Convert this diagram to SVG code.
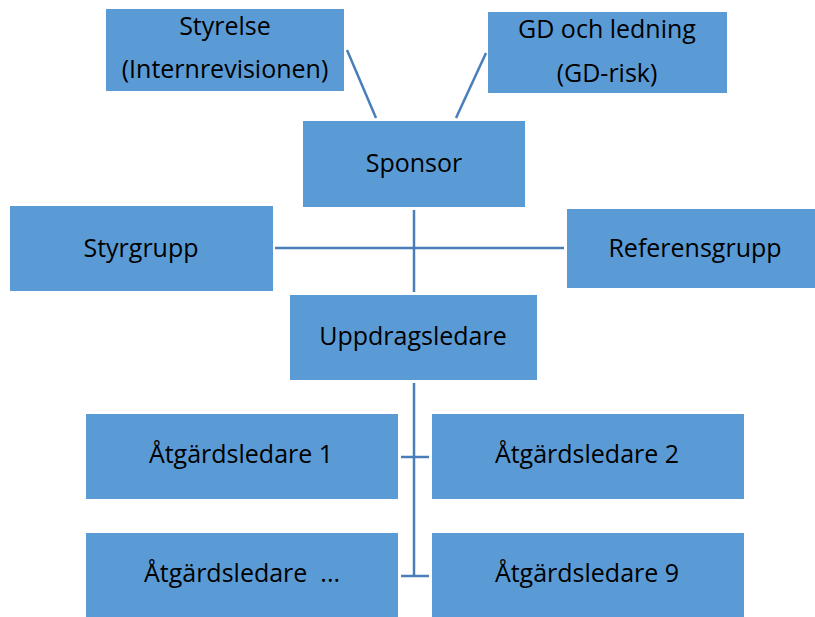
<svg xmlns="http://www.w3.org/2000/svg" width="815" height="617" viewBox="0 0 815 617">
<style>
.box{fill:#5B9BD5;}
.t{font-family:"Open Sans","Liberation Sans",sans-serif;font-size:25px;fill:#000;text-anchor:middle;}
.c{stroke:#4A7EBB;stroke-width:2.5;fill:none;}
</style>
<rect width="815" height="617" fill="#fff"/>
<g id="connectors">
<line class="c" x1="347" y1="50" x2="376" y2="118"/>
<line class="c" x1="486" y1="53" x2="456" y2="118"/>
<line class="c" x1="414" y1="210" x2="414" y2="292"/>
<line class="c" x1="275" y1="248" x2="564" y2="248"/>
<line class="c" x1="414" y1="383" x2="414" y2="577"/>
<line class="c" x1="401" y1="457" x2="429" y2="457"/>
<line class="c" x1="401" y1="576" x2="429" y2="576"/>
</g>
<g id="styrelse"><rect class="box" x="106" y="9" width="238" height="82"/><text class="t" x="225" y="35">Styrelse</text><text class="t" x="225" y="78">(Internrevisionen)</text></g>
<g id="gd"><rect class="box" x="488" y="12" width="239" height="81"/><text class="t" x="607" y="38">GD och ledning</text><text class="t" x="607" y="82">(GD-risk)</text></g>
<g id="sponsor"><rect class="box" x="303" y="121" width="222" height="86"/><text class="t" x="414" y="172">Sponsor</text></g>
<g id="styrgrupp"><rect class="box" x="10" y="206" width="263" height="85"/><text class="t" x="141" y="257">Styrgrupp</text></g>
<g id="referensgrupp"><rect class="box" x="567" y="209" width="248" height="79"/><text class="t" x="695" y="257">Referensgrupp</text></g>
<g id="uppdragsledare"><rect class="box" x="290" y="295" width="247" height="85"/><text class="t" x="413" y="345">Uppdragsledare</text></g>
<g id="atg1"><rect class="box" x="86" y="414" width="312" height="85"/><text class="t" x="241" y="463">Åtgärdsledare 1</text></g>
<g id="atg2"><rect class="box" x="432" y="414" width="312" height="85"/><text class="t" x="587" y="463">Åtgärdsledare 2</text></g>
<g id="atgdots"><rect class="box" x="86" y="533" width="312" height="84"/><text class="t" x="242" y="582" xml:space="preserve">Åtgärdsledare  ...</text></g>
<g id="atg9"><rect class="box" x="432" y="533" width="312" height="84"/><text class="t" x="587" y="582">Åtgärdsledare 9</text></g>
</svg>
